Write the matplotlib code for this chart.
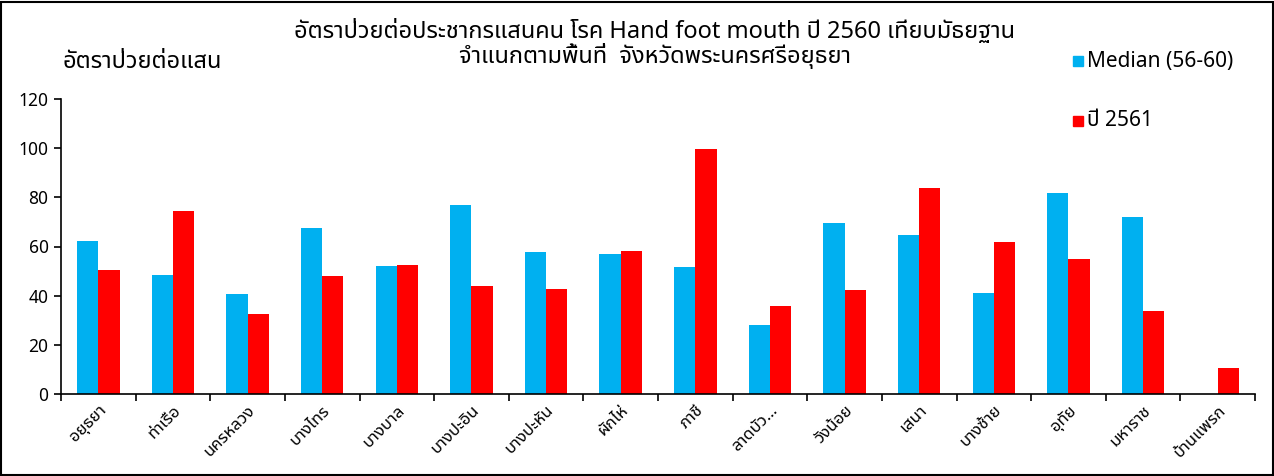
import matplotlib
matplotlib.use("Agg")
import matplotlib.pyplot as plt
import numpy as np
from matplotlib.patches import Rectangle

FONT = ['Noto Sans Thai', 'DejaVu Sans']
plt.rcParams['font.family'] = FONT

categories = ["อยุธยา", "ท่าเรือ", "นครหลวง", "บางไทร", "บางบาล", "บางปะอิน",
              "บางปะหัน", "ผักไห่", "ภาชี", "ลาดบัว…", "วังน้อย", "เสนา",
              "บางซ้าย", "อุทัย", "มหาราช", "บ้านแพรก"]
median_56_60 = [62.2, 48.4, 40.7, 67.5, 52.1, 76.9, 57.8, 56.9,
                51.6, 28.0, 69.7, 64.6, 41.1, 81.6, 72.0, 0.0]
rate_2561 = [50.3, 74.6, 32.5, 48.0, 52.4, 44.0, 42.9, 58.0,
             99.7, 35.8, 42.2, 83.8, 61.8, 54.8, 33.8, 10.7]
yticks = [0, 20, 40, 60, 80, 100, 120]

title = ("อัตราป่วยต่อประชากรแสนคน โรค Hand foot mouth ปี 2560 เทียบมัธยฐาน\n"
         "จำแนกตามพื้นที่  จังหวัดพระนครศรีอยุธยา")
ylabel = "อัตราป่วยต่อแสน"
legend_labels = ["Median (56-60)", "ปี 2561"]
BLUE = "#00B0F0"
RED = "#FF0000"

W, H = 1274, 476
fig = plt.figure(figsize=(W / 100, H / 100), dpi=100)
ax = fig.add_axes([61 / W, 1 - 394 / H, (1255 - 61) / W, (394 - 99) / H])

n = len(categories)
x = np.arange(n)
bw = 0.285
ax.bar(x + 0.5 - bw / 2, median_56_60, width=bw, color=BLUE, linewidth=0)
ax.bar(x + 0.5 + bw / 2, rate_2561, width=bw, color=RED, linewidth=0)

ax.set_xlim(0, n)
ax.set_ylim(0, 120)
ax.set_yticks(yticks)
ax.set_yticklabels([str(v) for v in yticks], fontsize=12.5)
ax.set_xticks(np.arange(n + 1))
ax.set_xticklabels([])
ax.set_xticks(x + 0.5, minor=True)
ax.set_xticklabels(categories, minor=True, rotation=45, ha='right', va='top',
                   rotation_mode='anchor', fontsize=12)
ax.tick_params(axis='x', which='minor', length=0, pad=6)
ax.tick_params(axis='x', which='major', direction='out', length=5, width=1.2)
ax.tick_params(axis='y', direction='out', length=5, width=1.2, pad=4)
for s in ['top', 'right']:
    ax.spines[s].set_visible(False)
for s in ['left', 'bottom']:
    ax.spines[s].set_linewidth(1.2)

fig.text(655 / W, 1 - 44 / H, title, ha='center', va='center', fontsize=17,
         linespacing=0.98, fontweight='medium')
fig.text(62 / W, 1 - 62 / H, ylabel, ha='left', va='center', fontsize=17,
         fontweight='medium')

# legend
for (yc, col, lab) in [(61, BLUE, legend_labels[0]), (121, RED, legend_labels[1])]:
    fig.patches.append(Rectangle((1073 / W, 1 - (yc + 5) / H), 10 / W, 10 / H,
                                 transform=fig.transFigure, color=col))
    fig.text(1087 / W, 1 - yc / H, lab, ha='left', va='center', fontsize=15)

# figure border
fig.patches.append(Rectangle((1.5 / W, 1.5 / H), (W - 3) / W, (H - 3) / H,
                             transform=fig.transFigure, fill=False,
                             edgecolor='black', linewidth=1.5))

fig.savefig("out.png", dpi=100)
